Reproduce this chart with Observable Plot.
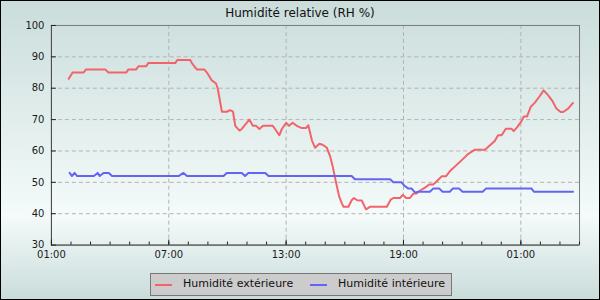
<!DOCTYPE html>
<html><head><meta charset="utf-8">
<script src="https://cdn.jsdelivr.net/npm/d3@7"></script>
<script src="https://cdn.jsdelivr.net/npm/@observablehq/plot@0.6"></script>
<style>
html,body{margin:0;padding:0;background:#fff;}
#chart{position:relative;width:600px;height:300px;box-sizing:border-box;border:1px solid #000;
  background:linear-gradient(to bottom,#cadddb 0%,#f4fbfa 72%,#c9dcda 100%);
  font-family:"DejaVu Sans",sans-serif;overflow:hidden;}
#title{position:absolute;left:-1px;top:4px;width:600px;text-align:center;font-size:12px;color:#111;line-height:16px;}
#plot{position:absolute;left:-1px;top:-1px;}
#legend{position:absolute;left:149px;top:272px;width:300px;height:21px;background:#cccccc;border:1px solid #777;font-size:11px;color:#111;}
#legend .sw{position:absolute;top:10px;width:17px;height:0;border-top:2px solid;}
#legend .lb{position:absolute;top:3px;line-height:14px;white-space:nowrap;}
</style></head>
<body>
<div id="chart">
  <div id="plot"></div>
  <div id="title"></div>
  <div id="legend"></div>
</div>
<script>
const titleText = "Humidité relative (RH %)";
const seriesNames = ["Humidité extérieure", "Humidité intérieure"];
const seriesColors = ["#f2646a", "#6464f2"];

const extTimes = ["01:53","02:05","02:39","02:46","03:45","03:55","04:50","04:56","05:20","05:27","05:51","05:57","07:20","07:26","08:06","08:11","08:18","08:26","08:49","08:57","09:12","09:25","09:30","09:43","09:58","10:08","10:17","10:24","10:37","10:44","11:07","11:18","11:28","11:38","11:49","12:19","12:26","12:39","12:47","13:00","13:09","13:20","13:33","13:48","14:01","14:08","14:19","14:29","14:42","14:52","15:05","15:15","15:23","15:33","15:43","15:51","15:56","16:11","16:21","16:28","16:38","16:52","17:05","17:17","18:09","18:21","18:29","18:49","18:58","19:08","19:20","19:30","19:40","19:45","20:06","20:19","20:31","20:40","20:57","21:10","21:22","21:58","22:19","22:39","23:10","23:40","23:50","00:01","00:14","00:31","00:38","00:49","01:02","01:09","01:19","01:30","01:43","01:56","02:10","02:24","02:37","02:49","03:02","03:10","03:25","03:40"];
const extValues = [83,85,85,86,86,85,85,86,86,87,87,88,88,89,89,88,87,86,86,85,82.5,81.5,80,72.5,72.5,73,72.5,68,66.5,67,70,68,68,67,68,68,67,65,67,69,68,69,68,67.3,67.3,68.2,63.4,61,62.3,62,61,58.3,55,50,45.4,43.3,42.2,42.2,44.3,45,44.3,44.2,41.4,42.2,42.2,44.5,45,45,46,45,45,46.4,46.4,47,48.3,49.3,49.3,50.1,51.9,51.9,53.5,57,59.1,60.4,60.4,63.2,65,65,67.1,67.1,66.3,67.6,69.5,71,71,74,75.4,77.2,79.3,77.7,75.9,73.5,72.4,72.4,73.5,75.3];

const intTimes = ["01:56","02:03","02:11","02:19","03:10","03:22","03:28","03:40","03:56","04:06","07:30","07:45","07:56","09:48","09:58","10:44","10:54","11:04","11:56","12:06","16:21","16:31","18:19","18:29","18:54","19:02","19:15","19:25","19:35","19:48","20:21","20:31","20:50","21:00","21:22","21:31","21:51","22:01","23:03","23:13","01:33","01:40","03:40"];
const intValues = [53,52,53,52,52,53,52,53,53,52,52,53,52,52,53,53,52,53,53,52,52,51,51,50,50,49,48,48,46.8,47,47,48,48,47,47,48,48,47,47,48,48,47,47];

const xTickLabels = ["01:00","07:00","13:00","19:00","01:00"];
const yTicks = [30,40,50,60,70,80,90,100];

function parseTimes(arr) {
  let day = 0, prev = -1;
  return arr.map(s => {
    const [h, m] = s.split(":").map(Number);
    const mins = h * 60 + m;
    if (mins < prev) day++;
    prev = mins;
    return new Date(Date.UTC(2024, 0, 1 + day, h, m));
  });
}

const t0 = new Date(Date.UTC(2024, 0, 1, 1, 0));
const t1 = new Date(Date.UTC(2024, 0, 2, 4, 0));
const hourTicks = d3.utcHour.range(t0, new Date(+t1 + 1));
const majorTicks = hourTicks.filter((d, i) => i % 6 === 0);
const labelMap = new Map(majorTicks.map((d, i) => [+d, xTickLabels[i]]));

const ext = parseTimes(extTimes).map((t, i) => ({t, v: extValues[i], s: seriesNames[0]}));
const int = parseTimes(intTimes).map((t, i) => ({t, v: intValues[i], s: seriesNames[1]}));

const gridStyle = {stroke: "#b3b3b3", strokeOpacity: 1, strokeDasharray: "4,3"};

const chart = Plot.plot({
  width: 600,
  height: 266,
  marginTop: 25,
  marginLeft: 51,
  marginRight: 20,
  marginBottom: 21,
  style: {background: "transparent", fontFamily: "DejaVu Sans, sans-serif", fontSize: "10px", color: "#1a1a1a"},
  x: {type: "utc", domain: [t0, t1], label: null},
  y: {domain: [30, 100], label: null},
  marks: [
    Plot.gridY(yTicks.slice(1, -1), gridStyle),
    Plot.gridX(majorTicks.slice(1), gridStyle),
    Plot.frame({stroke: "#7a7a7a"}),
    Plot.ruleX([t0], {stroke: "#4a4a4a"}),
    Plot.ruleY([30], {stroke: "#4a4a4a"}),
    Plot.line(ext, {x: "t", y: "v", stroke: seriesColors[0], strokeWidth: 2}),
    Plot.line(int, {x: "t", y: "v", stroke: seriesColors[1], strokeWidth: 2}),
    Plot.axisY(yTicks, {tickSize: -5, tickPadding: 12, stroke: "#222", label: null}),
    Plot.axisX(hourTicks, {tickSize: -3, tickFormat: () => "", stroke: "#222", label: null}),
    Plot.axisX(majorTicks, {tickSize: -5, tickPadding: 11, tickFormat: d => labelMap.get(+d), stroke: "#222", label: null})
  ]
});
document.getElementById("plot").appendChild(chart);
document.getElementById("title").textContent = titleText;

const legend = document.getElementById("legend");
const pos = [{sw: 4, lb: 32}, {sw: 159, lb: 187}];
seriesNames.forEach((name, i) => {
  const sw = document.createElement("span");
  sw.className = "sw";
  sw.style.left = pos[i].sw + "px";
  sw.style.borderColor = seriesColors[i];
  legend.appendChild(sw);
  const lb = document.createElement("span");
  lb.className = "lb";
  lb.style.left = pos[i].lb + "px";
  lb.textContent = name;
  legend.appendChild(lb);
});
</script>
</body></html>
